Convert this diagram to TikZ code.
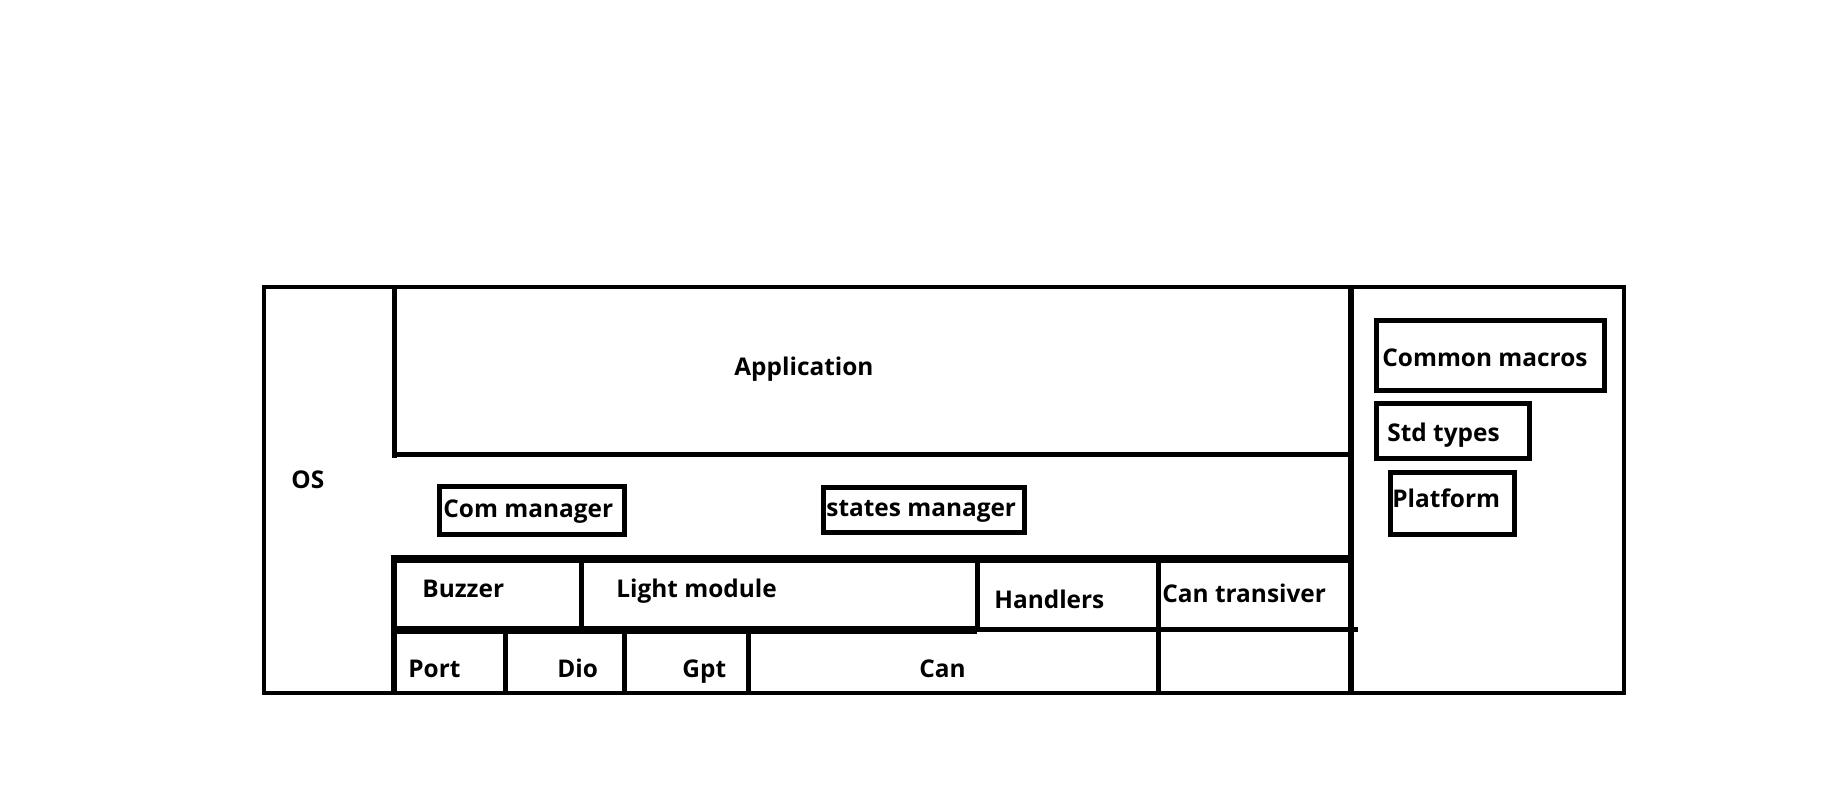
\documentclass[tikz,border=0pt]{standalone}
\usepackage{tikz}
\usepackage{xcolor}
\usepackage{fontspec}
\setmainfont{Open Sans}

\begin{document}
\begin{tikzpicture}[x=0.5pt,y=-0.5pt,
  frame/.style={line width=2.5pt},
  thickframe/.style={line width=4pt},
  txt/.style={anchor=base west, inner sep=0pt, font=\fontsize{12.2}{14}\selectfont\bfseries}]
  % Keep the page the size of the reference
  \useasboundingbox (0,0) rectangle (1822,812);
  \fill[white] (0,0) rectangle (1822,812);

  % Outer frame and the OS column
  \draw[line width=2.3pt] (264,287) rectangle (1624,693);
  \draw[frame] (394,287) -- (394,458);
  \draw[line width=2.8pt] (394,555) -- (394,693);
  \draw[line width=3.2pt] (1351,287) -- (1351,693);

  % Application layer
  \draw[frame] (394,455) -- (1351,455);

  % Drivers and handlers
  \draw[thickframe] (394,559) -- (1351,559);
  \draw[thickframe] (394,630) -- (977,630);
  \draw[frame] (977,630) -- (1358,630);
  \draw[frame] (581,559) -- (581,630);
  \draw[frame] (977,559) -- (977,630);
  \draw[frame] (1158,559) -- (1158,693);
  \draw[frame] (505,630) -- (505,693);
  \draw[frame] (624,630) -- (624,693);
  \draw[frame] (748,630) -- (748,693);

  % Managers
  \draw[frame] (439,487) rectangle (624,535);
  \draw[frame] (823,488) rectangle (1024,533);

  % Common files
  \draw[frame] (1376,321) rectangle (1604,391);
  \draw[frame] (1376,404) rectangle (1529,459);
  \draw[frame] (1390,473) rectangle (1514,535);

  % Texts
  \node[txt] (app) at (734,376) {Application};
  \node[txt] (os) at (291,489) {OS};
  \node[txt] (com) at (443,518) {Com manager};
  \node[txt] (states) at (826,517) {states manager};
  \node[txt] (buzzer) at (422,598) {Buzzer};
  \node[txt] (light) at (616,597) {Light module};
  \node[txt] (handlers) at (994,609) {Handlers};
  \node[txt] (cantrx) at (1162,603) {Can transiver};
  \node[txt] (port) at (408,677) {Port};
  \node[txt] (dio) at (557,677) {Dio};
  \node[txt] (gpt) at (682,677) {Gpt};
  \node[txt] (can) at (919,677) {Can};
  \node[txt] (macros) at (1382,367) {Common macros};
  \node[txt] (types) at (1387,442) {Std types};
  \node[txt] (platform) at (1392,508) {Platform};
\end{tikzpicture}
\end{document}
